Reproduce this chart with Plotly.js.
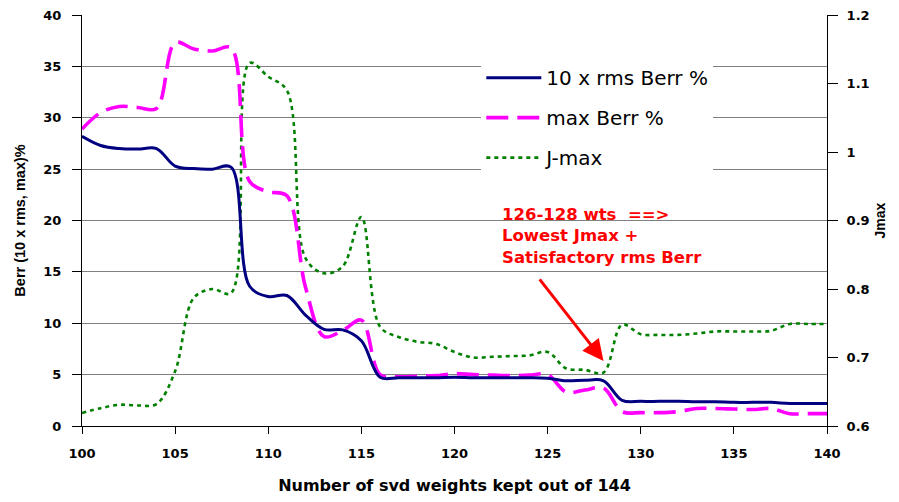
<!DOCTYPE html>
<html>
<head>
<meta charset="utf-8">
<script src="https://cdn.plot.ly/plotly-3.0.1.min.js"></script>
<style>html,body{margin:0;padding:0;background:#fff;}#chart{width:899px;height:502px;}</style>
</head>
<body>
<div id="chart"></div>
<script>
// Number of svd weights kept (x)
var weights = [100,101,102,103,104,105,106,107,108,109,110,111,112,113,114,115,116,117,118,119,120,
               121,122,123,124,125,126,127,128,129,130,131,132,133,134,135,136,137,138,139,140];
// 10 x rms Berr %
var rmsBerr = [28.2,27.3,27.0,26.95,27.0,25.3,25.05,25.0,25.2,13.6,12.6,12.7,10.8,9.4,9.35,8.3,4.75,4.7,4.7,4.7,4.75,
               4.7,4.7,4.7,4.7,4.65,4.4,4.45,4.4,2.5,2.4,2.4,2.4,2.35,2.35,2.3,2.3,2.3,2.2,2.2,2.2];
// max Berr %
var maxBerr = [28.9,30.5,31.1,31.0,30.9,37.3,36.7,36.5,36.8,23.8,22.8,22.4,13.5,8.7,9.3,10.3,5.0,4.8,4.85,4.9,5.1,
               5.0,4.95,4.9,4.95,5.0,3.3,3.5,3.7,1.4,1.3,1.3,1.4,1.7,1.7,1.65,1.6,1.7,1.2,1.2,1.2];
// J-max (right axis)
var jMax = [0.619,0.626,0.631,0.630,0.632,0.680,0.787,0.800,0.794,1.130,1.110,1.090,0.845,0.823,0.833,0.905,0.745,0.730,0.723,0.720,0.708,
            0.700,0.701,0.702,0.703,0.708,0.684,0.682,0.678,0.748,0.734,0.733,0.733,0.735,0.738,0.738,0.738,0.739,0.749,0.749,0.749];
// tick labels
var xTicks = [100,105,110,115,120,125,130,135,140];
var berrTicks = [0,5,10,15,20,25,30,35,40];
var jTicks = [0.6,0.7,0.8,0.9,1.0,1.1,1.2];
var jTickText = ['0.6','0.7','0.8','0.9','1','1.1','1.2'];
var seriesNames = ['10 x rms Berr %','max Berr %','J-max'];
var noteLines = ['126-128 wts\u00a0 ==>','Lowest Jmax +','Satisfactory rms Berr'];

var tickFont = {family:'DejaVu Sans', size:13, color:'#000', weight:'bold'};

var traces = [
  {x:weights, y:jMax, yaxis:'y', name:seriesNames[2], mode:'lines', legendgroup:'c', legendrank:3,
   line:{color:'#008000', width:2.6, dash:'4px,4px', shape:'spline', smoothing:1}},
  {x:weights, y:maxBerr, yaxis:'y2', name:seriesNames[1], mode:'lines', legendgroup:'b', legendrank:2,
   line:{color:'#FF00FF', width:3.6, dash:'22px,9px', shape:'spline', smoothing:1}},
  {x:weights, y:rmsBerr, yaxis:'y2', name:seriesNames[0], mode:'lines', legendgroup:'a', legendrank:1,
   line:{color:'#000080', width:3, shape:'spline', smoothing:1}}
];

var layout = {
  width:899, height:502,
  margin:{l:82, r:72, t:15, b:76, pad:0},
  paper_bgcolor:'#fff', plot_bgcolor:'#fff',
  showlegend:true,
  legend:{x:0.536, y:0.895, xanchor:'left', yanchor:'top', bgcolor:'#fff', borderwidth:0,
          font:{family:'DejaVu Sans', size:20, color:'#000'}, traceorder:'grouped', tracegroupgap:11,
          itemwidth:55},
  xaxis:{range:[100,140], tickvals:xTicks, ticks:'outside', ticklen:7, tickcolor:'#000', tickwidth:1,
         showline:true, linecolor:'#000', linewidth:1, showgrid:false, zeroline:false,
         tickfont:tickFont, ticklabelstandoff:8,
         title:{text:'Number of svd weights kept out of 144', standoff:20,
                font:{family:'DejaVu Sans', size:16, color:'#000', weight:'bold'}}},
  yaxis:{range:[0.6,1.2], side:'right', tickvals:jTicks, ticktext:jTickText, ticks:'outside', ticklen:10,
         tickcolor:'#000', showline:true, linecolor:'#000', linewidth:1, showgrid:false, zeroline:false,
         tickfont:tickFont, ticklabelstandoff:6,
         title:{text:'Jmax', standoff:6, font:{family:'Liberation Sans', size:14, color:'#000', weight:'bold'}}},
  yaxis3:{range:[0.6,1.2], side:'right', overlaying:'y', anchor:'x', tickvals:jTicks, ticks:'inside', ticklen:10,
          tickcolor:'#000', showticklabels:false, showline:false, showgrid:false, zeroline:false},
  yaxis2:{range:[0,40], side:'left', overlaying:'y', anchor:'x', tickvals:berrTicks, ticks:'outside', ticklen:9,
          tickcolor:'#000', showline:true, linecolor:'#000', linewidth:1, showgrid:true, gridcolor:'#808080',
          gridwidth:1, zeroline:false, tickfont:tickFont, ticklabelstandoff:8,
          title:{text:'Berr (10 x rms, max)%', standoff:14,
                 font:{family:'Liberation Sans', size:14.5, color:'#000', weight:'bold'}}},
  annotations:[
    {xref:'x', yref:'y2', x:122.45, y:18.5, xanchor:'left', yanchor:'middle', align:'left', showarrow:false,
     text:noteLines.join('<br>'), font:{family:'DejaVu Sans', size:16.5, color:'#FF0000', weight:'bold'}},
    {xref:'x', yref:'y', x:128.0, y:0.695, text:'', showarrow:true, arrowhead:2, arrowsize:1.4, arrowwidth:3,
     arrowcolor:'#FF0000', ax:-65, ay:-83}
  ]
};

Plotly.newPlot('chart', traces, layout, {displayModeBar:false, staticPlot:true});
</script>
</body>
</html>
